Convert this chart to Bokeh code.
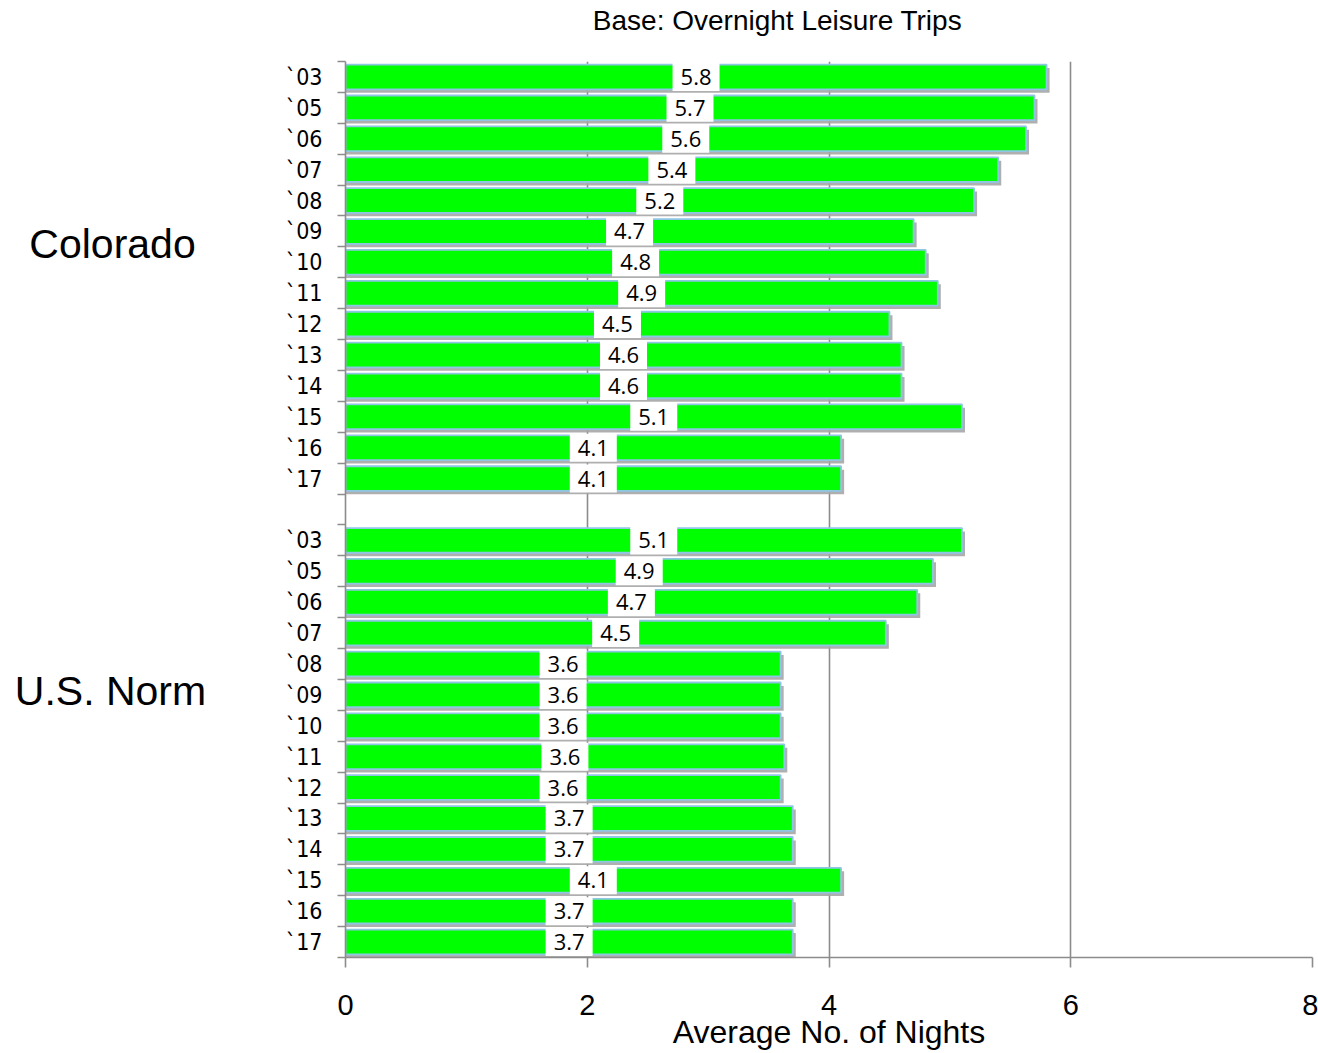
from bokeh.plotting import figure
from bokeh.layouts import row, column
from bokeh.models import Range1d, FixedTicker, ColumnDataSource
from bokeh.core.properties import value
from bokeh.embed import file_html
from bokeh.resources import INLINE

# ---- data ----
years = ["`03", "`05", "`06", "`07", "`08", "`09", "`10", "`11", "`12", "`13", "`14", "`15", "`16", "`17"]
colorado = [5.8, 5.7, 5.63, 5.4, 5.2, 4.7, 4.8, 4.9, 4.5, 4.6, 4.6, 5.1, 4.1, 4.1]
us_norm = [5.1, 4.86, 4.73, 4.47, 3.6, 3.6, 3.6, 3.63, 3.6, 3.7, 3.7, 4.1, 3.7, 3.7]
groups = ["Colorado", "U.S. Norm"]
x_ticks = [0, 2, 4, 6, 8]
title_text = "Base: Overnight Leisure Trips"
x_title = "Average No. of Nights"

# ---- layout of slots (14 rows, 1 gap, 14 rows) ----
n_rows = len(years)
n_slots = 2 * n_rows + 1
series = [colorado, us_norm]
label_lift = [1.08, 1.61]   # group names sit a little above the middle of their block
ys, vals, labs, tick_labels = [], [], [], {}
group_centers = []
for gi, data in enumerate(series):
    start = gi * (n_rows + 1)
    for i, v in enumerate(data):
        yc = n_slots - (start + i + 0.5)
        ys.append(yc)
        vals.append(v)
        labs.append(f"{v:.1f}")
        tick_labels[yc] = years[i]
    group_centers.append(n_slots - (start + n_rows / 2) + label_lift[gi])

src = ColumnDataSource(dict(
    y=ys, v=vals, half=[v / 2 for v in vals], lab=labs,
    ys=[y - 0.11 for y in ys], vs=[v + 0.025 for v in vals],
))

W, H = 1318, 1053
TITLE_H = 40
LEFT_W = 230
TOP, BOTTOM = 61 - TITLE_H, 96
BODY_H = H - TITLE_H
yr = Range1d(0, n_slots)

# title strip
t = figure(width=W, height=TITLE_H, output_backend="svg", toolbar_location=None,
           x_range=Range1d(0, W), y_range=Range1d(0, TITLE_H),
           min_border_left=0, min_border_right=0, min_border_top=0, min_border_bottom=0)
t.axis.visible = False
t.grid.visible = False
t.outline_line_color = None
t.text(x=[777], y=[20], text=[title_text], text_align="center", text_baseline="middle",
       text_font=value("Liberation Sans"), text_font_size="28px", text_color="#000000")

# left panel with group names
g = figure(width=LEFT_W, height=BODY_H, output_backend="svg", toolbar_location=None,
           x_range=Range1d(0, LEFT_W), y_range=yr,
           min_border_left=0, min_border_right=0, min_border_top=TOP, min_border_bottom=BOTTOM)
g.axis.visible = False
g.grid.visible = False
g.outline_line_color = None
g.text(x=[112, 110], y=group_centers, text=groups, text_align="center", text_baseline="middle",
       text_font=value("Liberation Sans"), text_font_size="41px", text_color="#000000")

p = figure(width=W - LEFT_W, height=BODY_H, output_backend="svg", toolbar_location=None,
           x_range=Range1d(0, 8), y_range=yr,
           min_border_left=345 - LEFT_W, min_border_right=6, min_border_top=TOP, min_border_bottom=BOTTOM)
p.outline_line_color = None

# bars: shadow, bar, label boxes, labels
p.hbar(y="ys", left=0, right="vs", height=0.8, source=src,
       fill_color="#a6a6a6", line_color=None, fill_alpha=0.9)
p.hbar(y="y", left=0, right="v", height=0.8, source=src,
       fill_color="#00ff00", line_color="#8ec6e4", line_width=1.8)
p.rect(x="half", y="y", width=47, height=28, width_units="screen", height_units="screen",
       source=src, fill_color="white", line_color=None)
p.text(x="half", y="y", text="lab", source=src, text_align="center", text_baseline="middle",
       text_font=value("Open Sans"), text_font_size="22px", text_color="#000000")

# grid
p.xgrid.ticker = FixedTicker(ticks=x_ticks, minor_ticks=[])
p.xgrid.grid_line_color = "#8c8c8c"
p.xgrid.grid_line_width = 1.6
p.ygrid.visible = False

# x axis
p.xaxis.ticker = FixedTicker(ticks=x_ticks, minor_ticks=[])
p.xaxis.axis_line_color = "#8c8c8c"
p.xaxis.axis_line_width = 1.6
p.xaxis.major_tick_line_color = "#8c8c8c"
p.xaxis.major_tick_line_width = 1.6
p.xaxis.major_tick_out = 10
p.xaxis.major_tick_in = 0
p.xaxis.major_label_text_font = "Liberation Sans, Arial, sans-serif"
p.xaxis.major_label_text_font_size = "29px"
p.xaxis.major_label_text_color = "#000000"
p.xaxis.major_label_standoff = 27
p.xaxis.axis_label = x_title
p.xaxis.axis_label_text_font = "Liberation Sans, Arial, sans-serif"
p.xaxis.axis_label_text_font_size = "32px"
p.xaxis.axis_label_text_font_style = "normal"
p.xaxis.axis_label_text_color = "#000000"
p.xaxis.axis_label_standoff = -4

# y axis
centers = sorted(tick_labels.keys())
p.yaxis.ticker = FixedTicker(ticks=centers, minor_ticks=list(range(0, n_slots + 1)))
p.yaxis.major_label_overrides = tick_labels
p.yaxis.axis_line_color = "#8c8c8c"
p.yaxis.axis_line_width = 1.6
p.yaxis.major_tick_out = 0
p.yaxis.major_tick_in = 0
p.yaxis.minor_tick_out = 8
p.yaxis.minor_tick_in = 0
p.yaxis.minor_tick_line_color = "#8c8c8c"
p.yaxis.minor_tick_line_width = 1.6
p.yaxis.major_label_standoff = 15
p.yaxis.major_label_text_font = "Liberation Sans Narrow, Arial Narrow, DejaVu Sans Condensed, sans-serif"
p.yaxis.major_label_text_font_size = "23px"
p.yaxis.major_label_text_color = "#000000"

layout = column(t, row(g, p, spacing=0), spacing=0)
open("out.html", "w").write(file_html(layout, INLINE))
